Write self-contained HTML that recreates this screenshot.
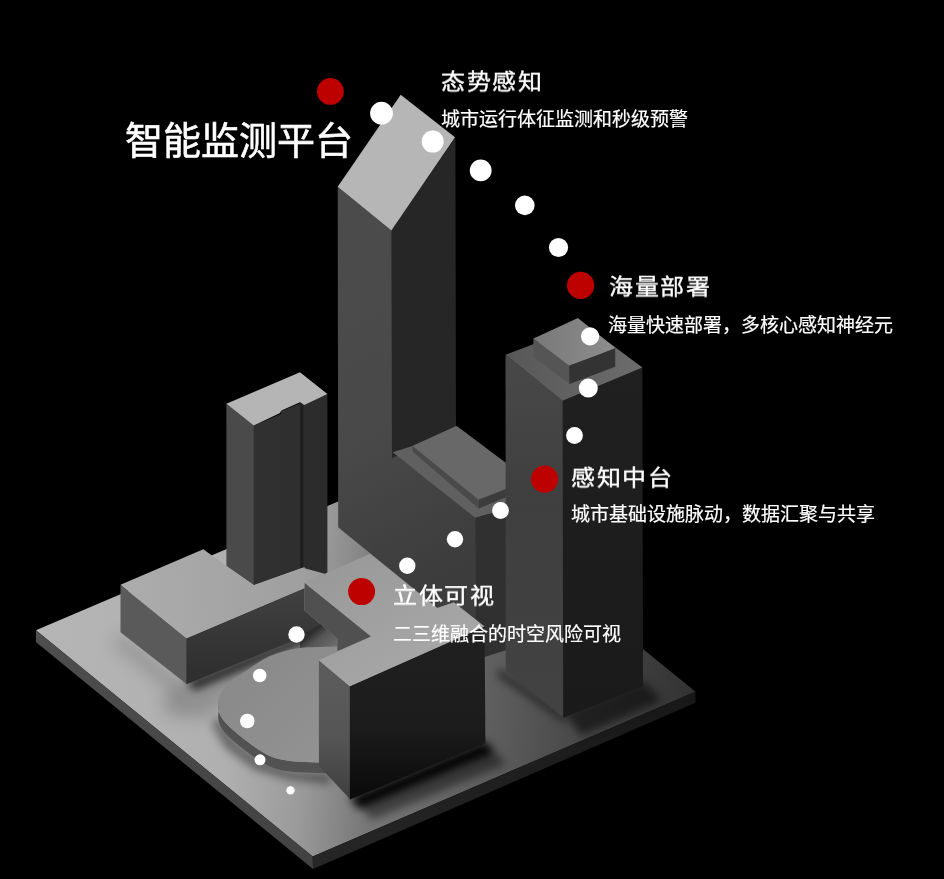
<!DOCTYPE html>
<html lang="zh-CN"><head><meta charset="utf-8">
<style>
html,body{margin:0;padding:0;background:#000;}
body{width:944px;height:879px;position:relative;overflow:hidden;font-family:"Liberation Sans",sans-serif;color:#fff;}
svg{position:absolute;left:0;top:0;}
.t{position:absolute;white-space:nowrap;line-height:1;will-change:transform;}
.h1{font-size:38px;-webkit-text-stroke:0.6px #fff;}
.h2{font-size:24px;letter-spacing:1.6px;transform:scaleY(0.93);transform-origin:0 0;-webkit-text-stroke:0.4px #fff;}
.p{font-size:19px;-webkit-text-stroke:0.2px #fff;}
</style></head>
<body>
<svg width="944" height="879" viewBox="0 0 944 879">
<defs>
<linearGradient id="gBaseTop" x1="36" y1="640" x2="695" y2="700" gradientUnits="userSpaceOnUse">
<stop offset="0" stop-color="#b5b5b5"/><stop offset="0.3" stop-color="#b0b0b0"/><stop offset="0.42" stop-color="#9a9a9a"/><stop offset="0.52" stop-color="#787878"/><stop offset="0.66" stop-color="#646464"/><stop offset="0.82" stop-color="#4a4a4a"/><stop offset="1" stop-color="#323232"/>
</linearGradient>
<linearGradient id="gBaseLeft" x1="35" y1="630" x2="313" y2="860" gradientUnits="userSpaceOnUse">
<stop offset="0" stop-color="#4e4e4e"/><stop offset="1" stop-color="#424242"/>
</linearGradient>
<linearGradient id="gBaseRight" x1="313" y1="860" x2="695" y2="700" gradientUnits="userSpaceOnUse">
<stop offset="0" stop-color="#262626"/><stop offset="1" stop-color="#181818"/>
</linearGradient>
<linearGradient id="gLeftPlane" x1="338" y1="300" x2="475" y2="560" gradientUnits="userSpaceOnUse">
<stop offset="0" stop-color="#4b4b4b"/><stop offset="0.5" stop-color="#484848"/><stop offset="1" stop-color="#3c3c3c"/>
</linearGradient>
<linearGradient id="gFrontR" x1="0" y1="630" x2="0" y2="790" gradientUnits="userSpaceOnUse">
<stop offset="0" stop-color="#202020"/><stop offset="0.6" stop-color="#1c1c1c"/><stop offset="1" stop-color="#0c0c0c"/>
</linearGradient>
<linearGradient id="gTowerL" x1="0" y1="360" x2="0" y2="715" gradientUnits="userSpaceOnUse">
<stop offset="0" stop-color="#484848"/><stop offset="0.4" stop-color="#3f3f3f"/><stop offset="1" stop-color="#424242"/>
</linearGradient>
<linearGradient id="gTowerR" x1="0" y1="370" x2="0" y2="715" gradientUnits="userSpaceOnUse">
<stop offset="0" stop-color="#202020"/><stop offset="1" stop-color="#1a1a1a"/>
</linearGradient>
<linearGradient id="gBoxR" x1="0" y1="590" x2="0" y2="680" gradientUnits="userSpaceOnUse">
<stop offset="0" stop-color="#404040"/><stop offset="1" stop-color="#2e2e2e"/>
</linearGradient>
<linearGradient id="gNook" x1="318" y1="628" x2="334" y2="648" gradientUnits="userSpaceOnUse">
<stop offset="0" stop-color="#2e2e2e"/><stop offset="0.35" stop-color="#555"/><stop offset="1" stop-color="#6e6e6e"/>
</linearGradient>
<linearGradient id="gDisc" x1="220" y1="650" x2="330" y2="760" gradientUnits="userSpaceOnUse">
<stop offset="0" stop-color="#888"/><stop offset="0.6" stop-color="#8e8e8e"/><stop offset="1" stop-color="#939393"/>
</linearGradient>
<linearGradient id="gBoxTop" x1="130" y1="600" x2="290" y2="580" gradientUnits="userSpaceOnUse">
<stop offset="0" stop-color="#acacac"/><stop offset="1" stop-color="#a0a0a0"/>
</linearGradient>
<linearGradient id="gLTop" x1="340" y1="570" x2="400" y2="670" gradientUnits="userSpaceOnUse">
<stop offset="0" stop-color="#9a9a9a"/><stop offset="1" stop-color="#a6a6a6"/>
</linearGradient>
<linearGradient id="gBoxT2" x1="540" y1="340" x2="610" y2="345" gradientUnits="userSpaceOnUse">
<stop offset="0" stop-color="#7a7a7a"/><stop offset="1" stop-color="#8c8c8c"/>
</linearGradient>
<linearGradient id="gTowT" x1="510" y1="360" x2="640" y2="368" gradientUnits="userSpaceOnUse">
<stop offset="0" stop-color="#585858"/><stop offset="1" stop-color="#6c6c6c"/>
</linearGradient>
<linearGradient id="gFrontL" x1="0" y1="665" x2="0" y2="800" gradientUnits="userSpaceOnUse">
<stop offset="0" stop-color="#5c5c5c"/><stop offset="0.55" stop-color="#555"/><stop offset="1" stop-color="#3e3e3e"/>
</linearGradient>
<filter id="b5" x="-50%" y="-50%" width="200%" height="200%"><feGaussianBlur stdDeviation="5"/></filter>
<filter id="b4" x="-50%" y="-50%" width="200%" height="200%"><feGaussianBlur stdDeviation="4"/></filter>
<filter id="b8" x="-50%" y="-50%" width="200%" height="200%"><feGaussianBlur stdDeviation="8"/></filter>
<filter id="b3" x="-50%" y="-50%" width="200%" height="200%"><feGaussianBlur stdDeviation="3"/></filter>
</defs>

<!-- base -->
<polygon points="35.9,630.2 419,467 695.5,691.7 312.7,856.4" fill="url(#gBaseTop)"/>
<polygon points="35.9,630.2 312.7,856.4 313,869 35.9,642" fill="url(#gBaseLeft)"/>
<polygon points="312.7,856.4 695.5,691.7 695.5,702.8 313,869" fill="url(#gBaseRight)"/>

<!-- contact shadows on base -->
<g filter="url(#b4)">
<polygon points="349.9,797 485.4,741 494,752 358,809" fill="#000" opacity="0.95"/>
<polygon points="352,798 485.4,742 506,764 372,820" fill="#000" opacity="0.45"/>
<polygon points="563.2,712 643,681 662,700 582,736" fill="#000" opacity="0.55"/>
<polygon points="500,668 563.2,714 566,724 497,676" fill="#000" opacity="0.5"/>
<polygon points="186.4,681 322,626 330,634 194,691" fill="#000" opacity="0.7"/>
<polygon points="218,716 240,744 262,760 292,771 330,774 330,784 290,780 255,770 225,748 212,725" fill="#000" opacity="0.4"/>
</g>
<g filter="url(#b8)">
<polygon points="186.4,684 270,652 240,690 205,718 170,716 160,700" fill="#000" opacity="0.18"/>
<polygon points="120.5,632.3 187.2,684.6 180,700 112,645" fill="#000" opacity="0.15"/>
</g>
<!-- tall building + step building left plane -->
<polygon points="337.7,186.8 392.2,231 393.2,452.2 475.2,517.6 475.2,638.3 338.2,527.3" fill="url(#gLeftPlane)"/>
<polygon points="391.4,230.5 455.4,137.3 456,432 392,458" fill="#262626"/>
<polygon points="400.7,94.8 455,137.3 391.4,230.5 337.7,186.8" fill="#b6b6b6"/>

<!-- step building top -->
<polygon points="475.2,517.6 506.5,509.5 506.5,650 475.2,660" fill="#303030"/>
<polygon points="392.6,452.2 412.5,446 456.6,426 506.5,463.5 506.5,509.5 475.2,517.6" fill="#606060"/>
<polygon points="412.5,446 456.6,426 506.5,463.5 506.5,488.8 478.6,499.7" fill="#686868"/>
<polygon points="412.5,446 478.6,499.7 478.6,508.6 412.5,451.5" fill="#4a4a4a"/>
<polygon points="478.6,499.7 506.5,488.8 506.5,497 478.6,508.6" fill="#3c3c3c"/>

<!-- right tower -->
<polygon points="505.5,354.8 563.4,401.2 564,718 505.8,670.6" fill="url(#gTowerL)"/>
<polygon points="562.6,400.8 642.4,367.6 643,686 563.2,717.7" fill="url(#gTowerR)"/>
<polygon points="505.5,354.8 584.9,324.7 642.4,367.6 562.6,400.8" fill="url(#gTowT)"/>
<polygon points="533.4,338.6 569.9,366 570.3,384.2 533.4,357" fill="#555"/>
<polygon points="569.1,365.6 615.2,348.1 615.2,366.8 569.5,384" fill="#333"/>
<polygon points="533.4,338.6 577.9,318 615.2,348.1 569.1,365.6" fill="url(#gBoxT2)"/>

<!-- small building -->
<polygon points="226.4,403.7 254.5,426 254.5,585.5 226.4,566.1" fill="#4a4a4a"/>
<polygon points="253.7,425.5 303.4,404.5 303.4,567.5 253.7,585.3" fill="#303030"/>
<polygon points="280.9,411.2 300.8,403 300.8,568 280.9,575" fill="#2f2f2f"/>
<polygon points="302,404 327.4,394.1 327.4,574.4 302,567.5" fill="#2c2c2c"/>
<polygon points="300.2,402.5 303.4,405 303.4,567.5 300.2,568.5" fill="#1e1e1e"/>
<polygon points="226.4,403.7 300,372.3 327.4,394.1 304.2,405 300,402.3 281.5,410.5 279.6,413.2 253.7,425.5" fill="#b5b5b5"/>

<!-- left box -->
<polygon points="120.5,584.8 187.2,638.6 187.2,684.6 120.5,632.3" fill="#5a5a5a"/>
<polygon points="186.4,638.2 304.6,588 304.6,610.5 322,625.5 322,629 186.4,684.2" fill="url(#gBoxR)"/>
<polygon points="120.5,584.8 203.3,549.3 226.4,566 253.7,585.3 304.6,567 304.6,588 186.4,638.2" fill="url(#gBoxTop)"/>

<polygon points="320,624 337.4,638.8 337.4,652 318.3,652 300,652 300,636" fill="url(#gNook)"/>
<!-- disc -->
<path d="M219.5,697.0 C219.3,698.8 217.8,704.3 218.3,708.0 C218.8,711.7 219.8,715.2 222.7,719.2 C225.5,723.2 231.2,728.2 235.4,732.0 C239.6,735.8 243.9,738.9 248.1,742.1 C252.3,745.3 256.6,748.5 260.8,751.0 C265.1,753.5 268.3,755.7 273.6,757.4 C278.9,759.1 285.2,760.4 292.6,761.2 C300.0,762.1 310.1,762.2 318.0,762.5 C325.9,762.8 336.3,762.8 340.0,762.8 L340.0,773.3 C336.3,773.2 325.9,773.3 318.0,773.0 C310.1,772.7 300.0,772.6 292.6,771.7 C285.2,770.9 278.9,769.6 273.6,767.9 C268.3,766.2 265.1,764.0 260.8,761.5 C256.6,759.0 252.3,755.8 248.1,752.6 C243.9,749.4 239.6,746.3 235.4,742.5 C231.2,738.7 225.5,733.7 222.7,729.7 C219.8,725.7 218.8,722.2 218.3,718.5 C217.8,714.8 219.3,709.3 219.5,707.5 Z" fill="#525252"/>
<path d="M340.0,646.5 C336.3,646.6 325.3,646.7 318.0,647.0 C310.7,647.3 304.0,647.0 296.0,648.5 C288.0,650.0 278.5,652.2 270.0,656.0 C261.5,659.8 252.2,666.8 245.0,671.5 C237.8,676.2 231.2,680.1 227.0,684.4 C222.8,688.6 220.9,693.1 219.5,697.0 C218.1,700.9 217.8,704.3 218.3,708.0 C218.8,711.7 219.8,715.2 222.7,719.2 C225.5,723.2 231.2,728.2 235.4,732.0 C239.6,735.8 243.9,738.9 248.1,742.1 C252.3,745.3 256.6,748.5 260.8,751.0 C265.1,753.5 268.3,755.7 273.6,757.4 C278.9,759.1 285.2,760.4 292.6,761.2 C300.0,762.1 310.1,762.2 318.0,762.5 C325.9,762.8 336.3,762.8 340.0,762.8 Z" fill="url(#gDisc)"/>

<!-- L block -->
<polygon points="304.6,582.8 371.1,636.5 337.4,651.1 337.4,638.8 304.6,610.5" fill="#505050"/>
<polygon points="318.9,660.3 350.6,686.8 350.7,800 318.9,765.7" fill="url(#gFrontL)"/>
<polygon points="349.8,686.3 484.6,626.6 485.4,743.3 349.9,799.5" fill="url(#gFrontR)"/>
<polygon points="304.6,582.8 370,553.7 437,608 453.9,602.2 484.6,626.6 349.8,686.3 318.9,660.3 371.1,636.5" fill="url(#gLTop)"/>

<!-- dots -->
<g fill="#fff">
<circle cx="381.5" cy="113.2" r="11.4"/>
<circle cx="432.7" cy="141.6" r="11"/>
<circle cx="480.7" cy="170.4" r="10.9"/>
<circle cx="524.8" cy="205.4" r="9.8"/>
<circle cx="558.5" cy="247.5" r="9.6"/>
<circle cx="590.1" cy="336.4" r="9.1"/>
<circle cx="588.3" cy="388.1" r="9.5"/>
<circle cx="574.5" cy="435.5" r="8.4"/>
<circle cx="500.5" cy="510.5" r="8.4"/>
<circle cx="455" cy="539.3" r="8.2"/>
<circle cx="407.3" cy="565.8" r="8.2"/>
<circle cx="296.5" cy="634.5" r="8.2"/>
<circle cx="259.7" cy="675.5" r="6.8"/>
<circle cx="247.3" cy="721" r="7.3"/>
<circle cx="260" cy="759.8" r="5.5"/>
<circle cx="290.5" cy="790.4" r="4.2"/>
</g>
<g fill="#bd0000">
<circle cx="330.4" cy="91.4" r="13.4"/>
<circle cx="580.6" cy="285.4" r="13.6"/>
<circle cx="544.6" cy="479.2" r="13.6"/>
<circle cx="361.6" cy="591.6" r="13.5"/>
</g>
</svg>

<div class="t h1" style="left:125px;top:122px;">智能监测平台</div>
<div class="t h2" style="left:441px;top:70.5px;">态势感知</div>
<div class="t p" style="left:441px;top:110px;">城市运行体征监测和秒级预警</div>
<div class="t h2" style="left:608.5px;top:275.5px;">海量部署</div>
<div class="t p" style="left:608px;top:315.5px;">海量快速部署，多核心感知神经元</div>
<div class="t h2" style="left:571px;top:466.5px;">感知中台</div>
<div class="t p" style="left:571px;top:505px;">城市基础设施脉动，数据汇聚与共享</div>
<div class="t h2" style="left:393px;top:585px;">立体可视</div>
<div class="t p" style="left:392.8px;top:625px;">二三维融合的时空风险可视</div>
</body></html>
